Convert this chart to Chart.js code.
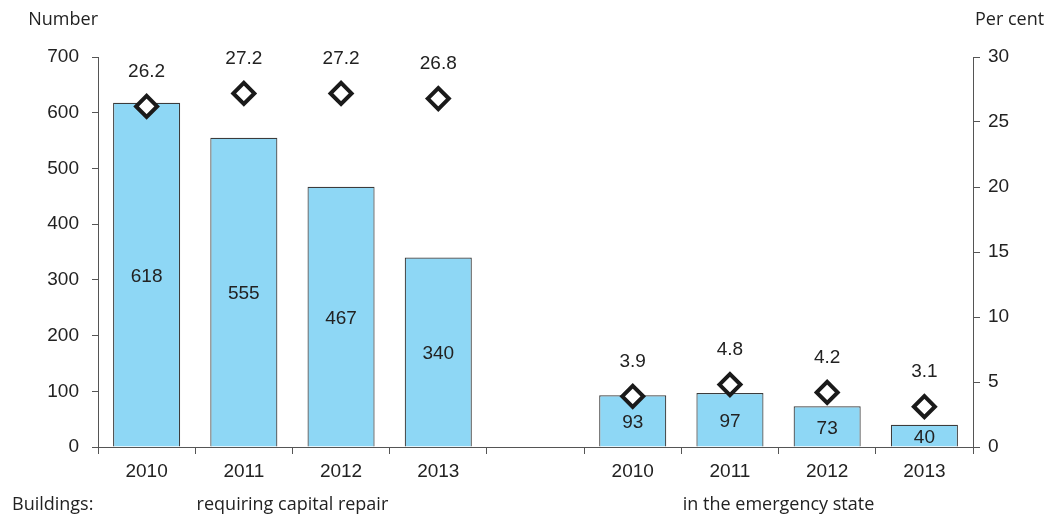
<!DOCTYPE html>
<html>
<head>
<meta charset="utf-8">
<script src="https://cdn.jsdelivr.net/npm/chart.js@4/dist/chart.umd.min.js"></script>
<style>
  html, body { margin: 0; padding: 0; background: #fff; }
  .chart-frame { position: relative; width: 1049px; height: 520px; }
</style>
</head>
<body>
<div class="chart-frame">
  <canvas id="buildingsChart" width="1049" height="520"></canvas>
</div>
<script>
// data
const categories = ['2010', '2011', '2012', '2013', '', '2010', '2011', '2012', '2013'];
const buildingCounts = [618, 555, 467, 340, null, 93, 97, 73, 40];
const sharePercent = [26.2, 27.2, 27.2, 26.8, null, 3.9, 4.8, 4.2, 3.1];
const groupLabels = ['requiring capital repair', 'in the emergency state'];
const groupBoundaries = [[1, 2], [6, 7]];
const leftAxisTitle = 'Number';
const rightAxisTitle = 'Per cent';
const rowTitle = 'Buildings:';

const numFont = '"Liberation Sans Narrow", "Liberation Sans", Arial, sans-serif';
const textFont = '"Open Sans", "Noto Sans", sans-serif';
const axisColor = '#555';
const textColor = '#222';

const labelsPlugin = {
  id: 'labels',
  afterDatasetsDraw(chart) {
    const ctx = chart.ctx;
    ctx.save();
    ctx.fillStyle = textColor;
    ctx.font = '19px ' + numFont;
    ctx.textAlign = 'center';
    ctx.textBaseline = 'middle';

    // counts in the middle of each bar
    chart.getDatasetMeta(0).data.forEach((bar, i) => {
      if (buildingCounts[i] == null) return;
      ctx.fillText(String(buildingCounts[i]), bar.x, (bar.y + bar.base) / 2 + 2);
    });

    // per cent values above each diamond
    chart.getDatasetMeta(1).data.forEach((pt, i) => {
      if (sharePercent[i] == null) return;
      ctx.fillText(sharePercent[i].toFixed(1), pt.x, pt.y - 35);
    });
    ctx.restore();
  },
  afterDraw(chart) {
    const ctx = chart.ctx;
    const x = chart.scales.x;
    ctx.save();
    ctx.fillStyle = textColor;
    ctx.font = '18px ' + textFont;
    ctx.textBaseline = 'middle';

    ctx.textAlign = 'right';
    ctx.fillText(leftAxisTitle, 98, 20);
    ctx.textAlign = 'left';
    ctx.fillText(rightAxisTitle, 975, 20);
    ctx.fillText(rowTitle, 12, 505);

    ctx.textAlign = 'center';
    groupBoundaries.forEach((pair, i) => {
      const cx = (x.getPixelForValue(pair[0]) + x.getPixelForValue(pair[1])) / 2;
      ctx.fillText(groupLabels[i], cx, 505);
    });
    ctx.restore();
  }
};

new Chart(document.getElementById('buildingsChart').getContext('2d'), {
  type: 'bar',
  data: {
    labels: categories,
    datasets: [{
      type: 'bar',
      label: 'Number of buildings',
      data: buildingCounts,
      backgroundColor: '#8ed7f5',
      borderColor: '#3c3c3c',
      borderWidth: 1.2,
      barPercentage: 0.69,
      categoryPercentage: 1,
      yAxisID: 'y',
      order: 1
    }, {
      type: 'line',
      label: 'Per cent',
      data: sharePercent,
      showLine: false,
      pointStyle: 'rectRot',
      pointRadius: 10.5,
      pointBorderWidth: 4,
      pointBackgroundColor: '#fff',
      pointBorderColor: '#1a1a1a',
      yAxisID: 'y1',
      order: 0
    }]
  },
  options: {
    responsive: false,
    animation: false,
    layout: { padding: { top: 57, left: 0, right: 0, bottom: 0 } },
    plugins: {
      legend: { display: false },
      tooltip: { enabled: false }
    },
    scales: {
      x: {
        offset: true,
        grid: { offset: true, drawOnChartArea: false, drawTicks: true, tickLength: 7, color: axisColor },
        border: { color: axisColor, width: 1 },
        ticks: { color: textColor, font: { family: numFont, size: 19 }, padding: 6, maxRotation: 0 },
        afterFit(scale) { scale.height = 73; }
      },
      y: {
        position: 'left',
        min: 0,
        max: 700,
        ticks: { stepSize: 100, color: textColor, font: { family: numFont, size: 19 }, padding: 13 },
        grid: { drawOnChartArea: false, tickLength: 6, color: axisColor },
        border: { color: axisColor, width: 1 },
        afterFit(scale) { scale.width = 98; }
      },
      y1: {
        position: 'right',
        min: 0,
        max: 30,
        ticks: { stepSize: 5, color: textColor, font: { family: numFont, size: 19 }, padding: 8 },
        grid: { drawOnChartArea: false, tickLength: 7, color: axisColor },
        border: { color: axisColor, width: 1 },
        afterFit(scale) { scale.width = 76; }
      }
    }
  },
  plugins: [labelsPlugin]
});
</script>
</body>
</html>
